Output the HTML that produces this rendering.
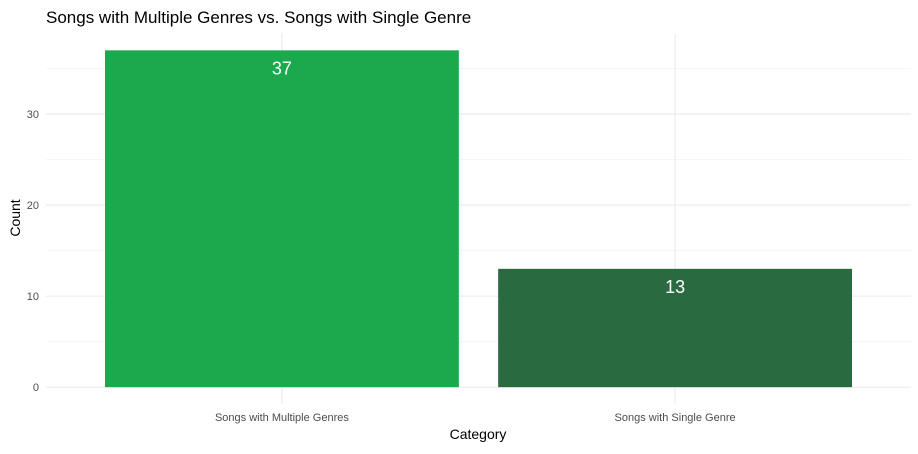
<!DOCTYPE html>
<html><head><meta charset="utf-8"><style>
body{margin:0;background:#fff;font-family:"Liberation Sans",sans-serif}
</style></head><body>
<svg id="chart" width="918" height="449" xmlns="http://www.w3.org/2000/svg" font-family="Liberation Sans, sans-serif">
<g id="grid"></g>
<g id="bars"></g>
<g id="labels"></g>
<text x="46" y="23" font-size="17" fill="#000">Songs with Multiple Genres vs. Songs with Single Genre</text>
<text x="478" y="439" font-size="14" text-anchor="middle" fill="#000">Category</text>
<text transform="translate(20,218) rotate(-90)" font-size="14" text-anchor="middle" fill="#000">Count</text>
</svg>
<script>
const categories = ["Songs with Multiple Genres", "Songs with Single Genre"];
const counts = [37, 13];
const barColors = ["#1ca84c", "#2a6a40"];
const yTicks = [0, 10, 20, 30];
const yMinor = [5, 15, 25, 35];

const NS = "http://www.w3.org/2000/svg";
const plotLeft = 46, plotRight = 911, yMinV = -1.85, yMaxV = 38.85, plotTop = 33.5, plotBottom = 404;
function y(v){ return plotBottom - (v - yMinV) / (yMaxV - yMinV) * (plotBottom - plotTop); }
const step = (plotRight - plotLeft) / (categories.length + 0.2);
function x(i){ return plotLeft + step * (i + 0.6); }
function mk(tag, attrs, parent){ const e = document.createElementNS(NS, tag); for (const k in attrs) e.setAttribute(k, attrs[k]); parent.appendChild(e); return e; }

const grid = document.getElementById("grid");
yMinor.forEach(v => {
  const l = mk("line", {x1:plotLeft, x2:plotRight, y1:y(v), y2:y(v), stroke:"#f0f0f0", "stroke-width":0.6}, grid);
  
  
});
yTicks.forEach(v => {
  const l = mk("line", {x1:plotLeft, x2:plotRight, y1:y(v), y2:y(v), stroke:"#ebebeb", "stroke-width":1.1}, grid);
  
  
  const t = mk("text", {x:plotLeft - 7, y:y(v) + 4, "font-size":11, fill:"#4d4d4d", "text-anchor":"end"}, grid);
  t.textContent = v;
  
  
});
categories.forEach((c, i) => {
  const l = mk("line", {x1:x(i), x2:x(i), y1:plotTop, y2:plotBottom, stroke:"#ebebeb", "stroke-width":1.1}, grid);
  
  
  const t = mk("text", {x:x(i), y:421, "font-size":11, fill:"#4d4d4d", "text-anchor":"middle"}, grid);
  t.textContent = c;
  
  
});
const bars = document.getElementById("bars"), labels = document.getElementById("labels");
counts.forEach((v, i) => {
  const w = step * 0.9;
  const r = mk("rect", {x:x(i) - w/2, y:y(v), width:w, height:y(0) - y(v), fill:barColors[i]}, bars);
  
  
  const t = mk("text", {x:x(i), y:y(v) + 24, "font-size":18, fill:"#fff", "text-anchor":"middle"}, labels);
  t.textContent = v;
  
  
});
</script>
</body></html>
